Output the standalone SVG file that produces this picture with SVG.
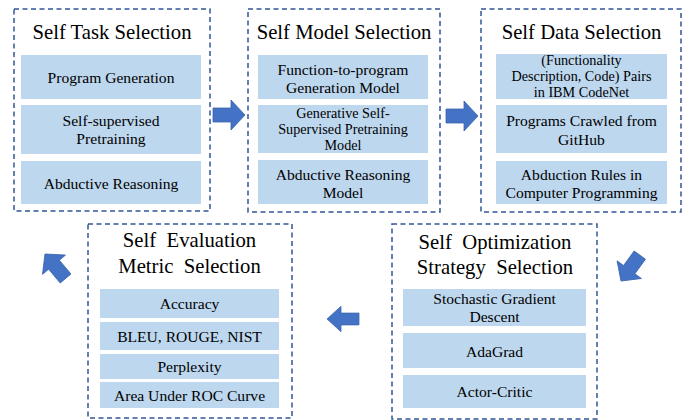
<svg xmlns="http://www.w3.org/2000/svg" width="692" height="420" viewBox="0 0 692 420">
<style>
.frame{fill:#fff;stroke:#2F5597;stroke-width:1.5;stroke-dasharray:5 3.5}
.item{fill:#BDD7EE}
.title{font-family:"Liberation Serif","Times New Roman",serif;font-size:20.7px;fill:#000;text-anchor:middle;white-space:pre}
.t{font-family:"Liberation Serif","Times New Roman",serif;font-size:15.6px;fill:#000;text-anchor:middle}
.t3{font-size:14.2px}
.arrow{fill:#4472C4;stroke:#3A64AE;stroke-width:0.8}
</style>
<defs>
<polygon id="arr" points="0,0 -14,-15 -14,-7 -32,-7 -32,7 -14,7 -14,15"/>
</defs>
<rect width="692" height="420" fill="#fff"/>

<g id="task">
<rect class="frame" x="14" y="9" width="196" height="202"/>
<text class="title" x="112" y="39">Self Task Selection</text>
<rect class="item" x="21" y="55" width="180" height="44"/>
<rect class="item" x="21" y="105" width="180" height="49"/>
<rect class="item" x="21" y="161" width="180" height="43"/>
<text class="t" x="111" y="82.5">Program Generation</text>
<text class="t" y="126"><tspan x="111">Self-supervised</tspan><tspan x="111" dy="17.5">Pretraining</tspan></text>
<text class="t" x="111" y="188.5">Abductive Reasoning</text>
</g>

<g id="model">
<rect class="frame" x="248" y="9" width="192" height="203"/>
<text class="title" x="344" y="39">Self Model Selection</text>
<rect class="item" x="258" y="55" width="170" height="44"/>
<rect class="item" x="258" y="105" width="170" height="48"/>
<rect class="item" x="258" y="160" width="170" height="44"/>
<text class="t" y="74.5"><tspan x="343">Function-to-program</tspan><tspan x="343" dy="18">Generation Model</tspan></text>
<text class="t t3" y="118"><tspan x="343">Generative Self-</tspan><tspan x="343" dy="15.8">Supervised Pretraining</tspan><tspan x="343" dy="15.8">Model</tspan></text>
<text class="t" y="179.5"><tspan x="343">Abductive Reasoning</tspan><tspan x="343" dy="18">Model</tspan></text>
</g>

<g id="data">
<rect class="frame" x="481" y="9" width="200" height="203"/>
<text class="title" x="581.5" y="39">Self Data Selection</text>
<rect class="item" x="496" y="54" width="171" height="45"/>
<rect class="item" x="496" y="105" width="171" height="48"/>
<rect class="item" x="496" y="161" width="171" height="43"/>
<text class="t t3" y="65"><tspan x="581.5">(Functionality</tspan><tspan x="581.5" dy="15.8">Description, Code) Pairs</tspan><tspan x="581.5" dy="15.8">in IBM CodeNet</tspan></text>
<text class="t" y="126"><tspan x="581.5">Programs Crawled from</tspan><tspan x="581.5" dy="18.5">GitHub</tspan></text>
<text class="t" y="179.5"><tspan x="581.5">Abduction Rules in</tspan><tspan x="581.5" dy="18.5">Computer Programming</tspan></text>
</g>

<g id="optimization">
<rect class="frame" x="392" y="224" width="205" height="195"/>
<text class="title" y="248.5"><tspan x="495">Self  Optimization</tspan><tspan x="495" dy="25">Strategy  Selection</tspan></text>
<rect class="item" x="403" y="289" width="183" height="37"/>
<rect class="item" x="403" y="333" width="183" height="35"/>
<rect class="item" x="403" y="375" width="183" height="33"/>
<text class="t" y="303.5"><tspan x="494.5">Stochastic Gradient</tspan><tspan x="494.5" dy="18.5">Descent</tspan></text>
<text class="t" x="494.5" y="356.5">AdaGrad</text>
<text class="t" x="494.5" y="396.5">Actor-Critic</text>
</g>

<g id="evaluation">
<rect class="frame" x="88" y="224" width="204" height="194"/>
<text class="title" y="247"><tspan x="189.5">Self  Evaluation</tspan><tspan x="189.5" dy="25.5">Metric  Selection</tspan></text>
<rect class="item" x="100" y="289" width="179" height="29"/>
<rect class="item" x="100" y="322" width="179" height="28"/>
<rect class="item" x="100" y="354" width="179" height="25"/>
<rect class="item" x="100" y="382" width="179" height="26"/>
<text class="t" x="189.5" y="309">Accuracy</text>
<text class="t" x="189.5" y="341.5">BLEU, ROUGE, NIST</text>
<text class="t" x="189.5" y="372">Perplexity</text>
<text class="t" x="189.5" y="400.5">Area Under ROC Curve</text>
</g>

<g id="connectors">
<use href="#arr" class="arrow" transform="translate(245,115)"/>
<use href="#arr" class="arrow" transform="translate(478,116)"/>
<use href="#arr" class="arrow" transform="translate(621,281) rotate(126)"/>
<use href="#arr" class="arrow" transform="translate(327,319) rotate(180) scale(1,0.85)"/>
<use href="#arr" class="arrow" transform="translate(45,254) rotate(-130)"/>
</g>
</svg>
